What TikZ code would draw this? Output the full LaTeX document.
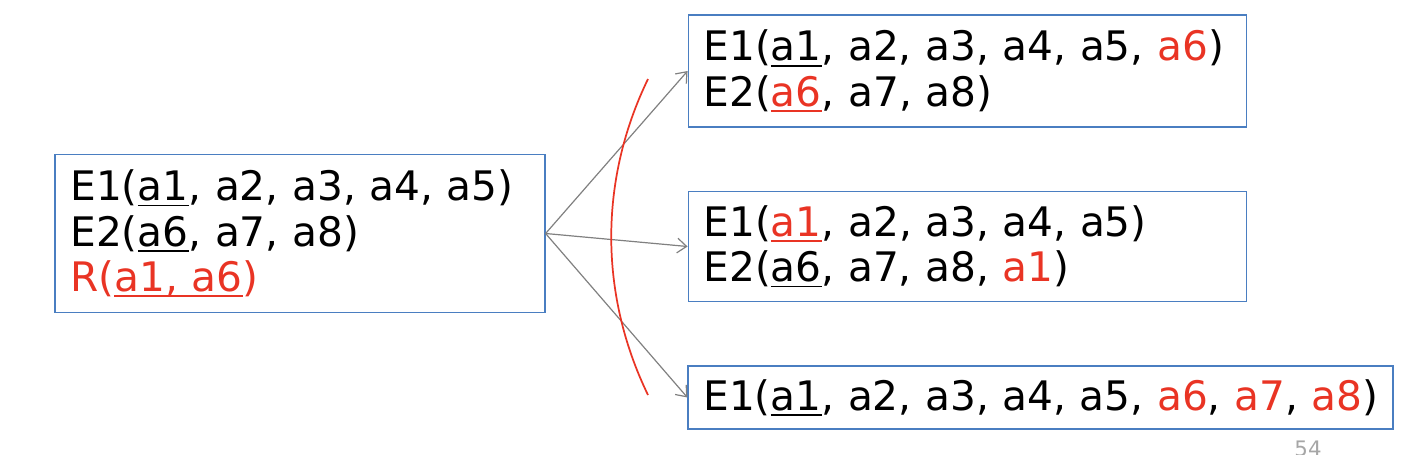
\documentclass[tikz,border=0pt]{standalone}
\usepackage{fontspec}
\setmainfont{DejaVu Sans}
\usetikzlibrary{arrows.meta,positioning}
\definecolor{boxblue}{RGB}{74,126,193}
\definecolor{hotred}{RGB}{233,52,36}
\newcommand{\rd}[1]{\textcolor{hotred}{#1}}
\newcommand{\keyu}[1]{\setbox0\hbox{#1}\rlap{\rule[-4.2pt]{\wd0}{1.4pt}}\box0}
\tikzset{rel/.style={draw=boxblue,line width=0.9pt,align=left,inner xsep=11.5pt,inner ysep=0pt,font=\fontsize{30.5}{34}\selectfont},arr/.style={->,>={Straight Barb[length=7pt,width=11pt]},draw=gray,line width=0.9pt}}

\begin{document}
\begin{tikzpicture}[x=0.75pt,y=0.75pt]
\useasboundingbox(0,0)rectangle(1404,-454);
\node[rel,text width=344.5pt,minimum height=119pt](L)at(300,-233.5){E1(\keyu{a1}, a2, a3, a4, a5)\\E2(\keyu{a6}, a7, a8)\\\rd{R(\keyu{a1, a6})}};
\node[rel,text width=396pt,minimum height=84pt](T)at(967.5,-71){\mbox{E1(\keyu{a1}, a2, a3, a4, a5, \rd{a6})}\\E2(\rd{\keyu{a6}}, a7, a8)};
\node[rel,text width=396pt,minimum height=83pt](M)at(967.5,-246.5){E1(\rd{\keyu{a1}}, a2, a3, a4, a5)\\E2(\keyu{a6}, a7, a8, \rd{a1})};
\node[rel,text width=505.75pt,minimum height=47.25pt](B)at(1040.5,-397.5){\mbox{E1(\keyu{a1}, a2, a3, a4, a5, \rd{a6}, \rd{a7}, \rd{a8})}};
\draw[arr](L.east)--(T.west);\draw[arr](L.east)--(M.west);\draw[arr](L.east)--(B.west);
% cut through the three choices
\draw[hotred,line width=1.3pt](648,-79)..controls(599,-180)and(599,-294)..(648,-395);
\node[anchor=base,text=gray!70,font=\fontsize{16}{18}\selectfont](pg)at(1308,-456){54};
\end{tikzpicture}
\end{document}
